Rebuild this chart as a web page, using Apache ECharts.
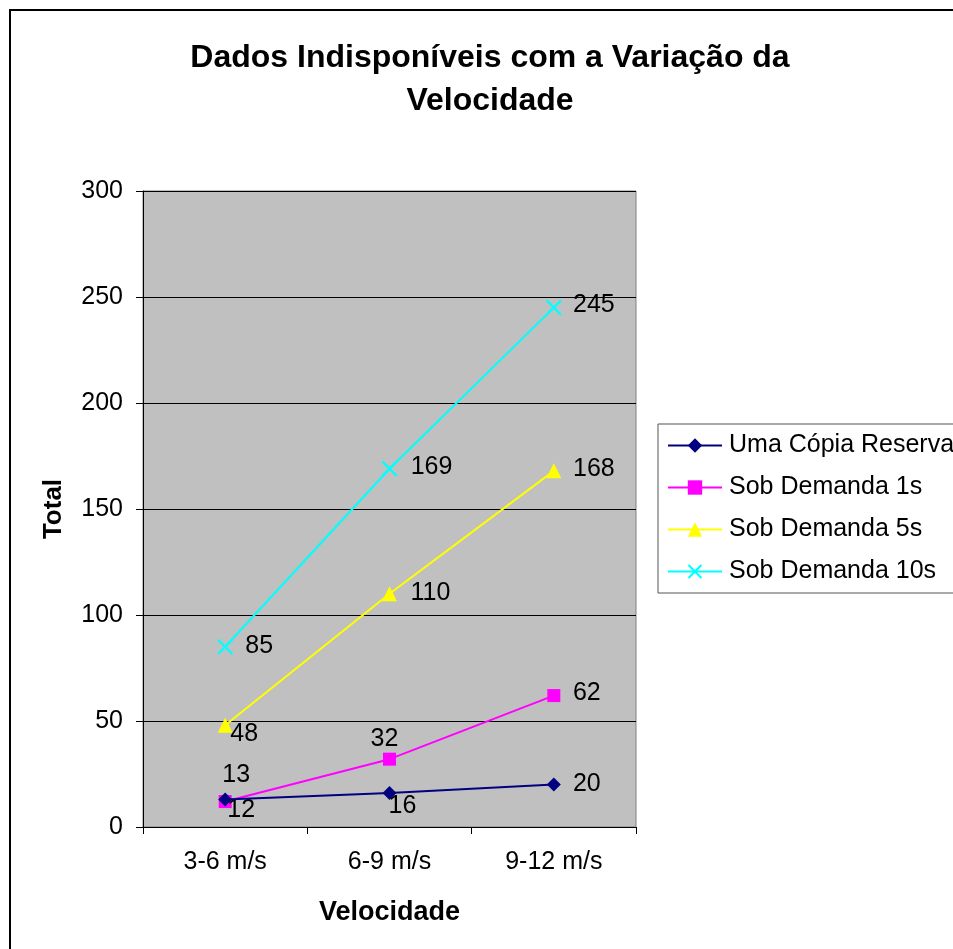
<!DOCTYPE html>
<html><head><meta charset="utf-8">
<script src="https://cdn.jsdelivr.net/npm/echarts@6/dist/echarts.min.js"></script>
<style>html,body{margin:0;padding:0;background:#fff}#c{width:953px;height:949px}</style>
</head><body><div id="c"></div>
<script>
const categories = ['3-6 m/s', '6-9 m/s', '9-12 m/s'];
const seriesNames = ['Uma Cópia Reserva', 'Sob Demanda 1s', 'Sob Demanda 5s', 'Sob Demanda 10s'];
const umaCopia = [13, 16, 20];
const demanda1s = [12, 32, 62];
const demanda5s = [48, 110, 168];
const demanda10s = [85, 169, 245];
const yTicks = [0, 50, 100, 150, 200, 250, 300];

const colors = ['#000080', '#FF00FF', '#FFFF00', '#00FFFF'];
const symbols = ['diamond', 'rect', 'triangle', 'path://M0,1L1,0L5,4L9,0L10,1L6,5L10,9L9,10L5,6L1,10L0,9L4,5Z'];
const symbolSizes = [14, 13, 15, 16];
const labelOffsets = [
  [[11, -24], [13, 13], [33, 0]],
  [[16, 9], [-5, -20], [33, -2]],
  [[19, 9], [41, -1], [40, -2]],
  [[34, -1], [42, -2], [40, -2]]
];
const allValues = [umaCopia, demanda1s, demanda5s, demanda10s];
const FONT = '"Liberation Sans", Arial, sans-serif';
const FS = 25;

const chart = echarts.init(document.getElementById('c'));
chart.setOption({
  animation: false,
  backgroundColor: '#fff',
  graphic: [
    { type: 'rect', shape: { x: 10, y: 10, width: 960, height: 960 }, style: { fill: 'none', stroke: '#000', lineWidth: 2 }, z: -10 },
    { type: 'text', x: 490, y: 80, style: { text: 'Dados Indisponíveis com a Variação da\nVelocidade', font: 'bold 32px ' + FONT, fill: '#000', textAlign: 'center', textVerticalAlign: 'middle', lineHeight: 43 } }
  ],
  legend: {
    orient: 'vertical',
    left: 658, top: 424,
    padding: [9, 20, 9, 9],
    itemGap: 17,
    itemWidth: 54, itemHeight: 18,
    borderColor: '#555', borderWidth: 1,
    backgroundColor: '#fff',
    textStyle: { fontSize: FS, fontFamily: FONT, color: '#000', padding: [0, 0, 0, 2] },
    data: seriesNames
  },
  grid: { left: 143, top: 191, width: 493, height: 636, show: true, backgroundColor: '#C0C0C0', borderColor: '#808080', borderWidth: 1 },
  xAxis: {
    type: 'category', data: categories, boundaryGap: true,
    name: 'Velocidade', nameLocation: 'middle', nameGap: 72,
    nameTextStyle: { fontSize: 27, fontWeight: 'bold', fontFamily: FONT, color: '#000' },
    axisLine: { lineStyle: { color: '#000', width: 1 } },
    axisTick: { show: true, length: 7, lineStyle: { color: '#000' } },
    axisLabel: { fontSize: FS, fontFamily: FONT, color: '#000', margin: 23 }
  },
  yAxis: {
    type: 'value', min: yTicks[0], max: yTicks[yTicks.length - 1], interval: 50,
    name: 'Total', nameLocation: 'middle', nameGap: 76, nameRotate: 90,
    nameTextStyle: { fontSize: 26, fontWeight: 'bold', fontFamily: FONT, color: '#000' },
    axisLine: { show: true, lineStyle: { color: '#000', width: 1 } },
    axisTick: { show: true, length: 7, lineStyle: { color: '#000' } },
    axisLabel: { fontSize: FS, fontFamily: FONT, color: '#000', margin: 20 },
    splitLine: { show: true, lineStyle: { color: '#000', width: 1 } }
  },
  series: allValues.map((vals, i) => ({
    name: seriesNames[i],
    type: 'line',
    color: colors[i],
    symbol: symbols[i],
    symbolSize: symbolSizes[i],
    showAllSymbol: true,
    lineStyle: { width: 2, color: colors[i] },
    itemStyle: { color: colors[i] },
    z: 10 - i,
    data: vals.map((v, j) => ({
      value: v,
      label: { show: true, position: 'inside', offset: labelOffsets[i][j], color: '#000', fontSize: FS, fontFamily: FONT, textBorderWidth: 0 }
    }))
  }))
});
</script></body></html>
